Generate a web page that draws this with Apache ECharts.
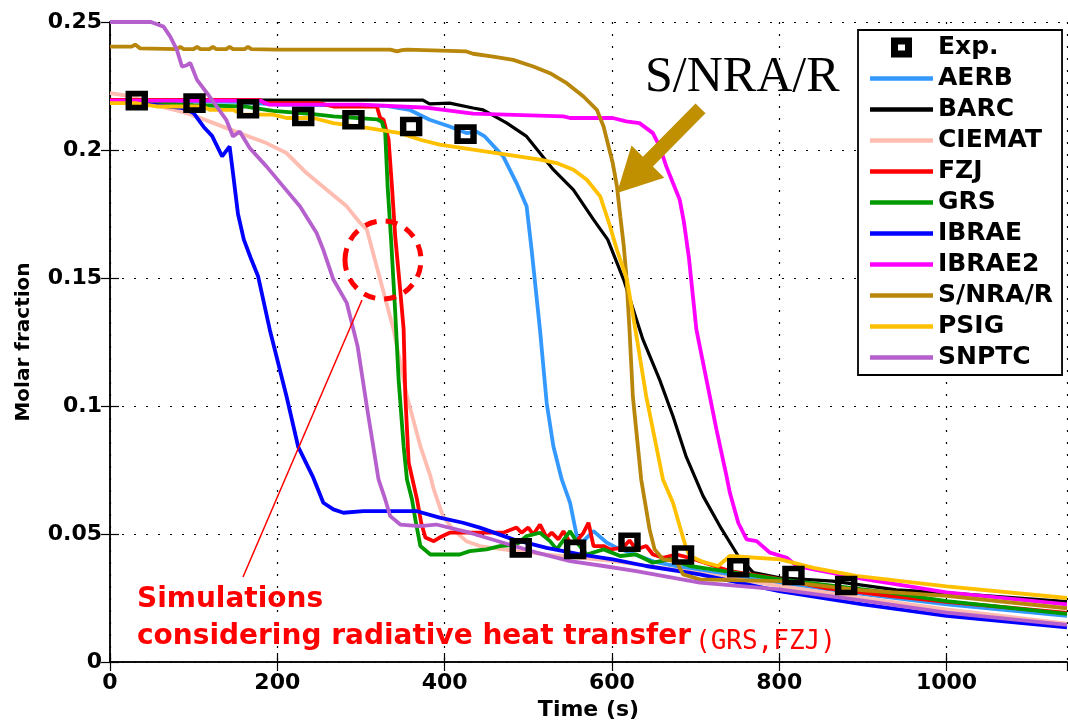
<!DOCTYPE html>
<html><head><meta charset="utf-8">
<script src="https://cdn.jsdelivr.net/npm/echarts@6/dist/echarts.min.js"></script>
<style>html,body{margin:0;padding:0;background:#fff}#c{width:1068px;height:726px}</style>
</head><body><div id="c"></div>
<script>
// ---------- DATA ----------
const expTime = [32, 101, 165, 231, 291, 360, 425, 491, 556, 621, 685, 751, 817, 880];
const expVal  = [0.2193, 0.2183, 0.2161, 0.2131, 0.2118, 0.2092, 0.2062, 0.0446, 0.0440, 0.0468, 0.0418, 0.0368, 0.0338, 0.0299];

const AERB = [[0,0.2193],[150,0.2188],[200,0.2177],[330,0.2172],[358,0.2157],[382,0.2118],[406,0.2092],[426,0.2066],[438,0.2072],[448,0.2053],[470,0.1975],[486,0.1871],[498,0.178],[504,0.161],[514,0.1298],[522,0.1012],[530,0.0843],[540,0.0713],[550,0.0622],[558,0.0492],[564,0.0466],[578,0.0511],[594,0.0466],[606,0.0446],[650,0.0392],[705,0.0355],[800,0.031],[900,0.0265],[1000,0.0225],[1144,0.018]];
const BARC = [[0,0.2195],[374,0.2195],[382,0.218],[406,0.2183],[434,0.2164],[446,0.2157],[474,0.2106],[498,0.2053],[530,0.1923],[554,0.1844],[578,0.1728],[595,0.165],[614,0.1494],[637,0.126],[657,0.1103],[673,0.096],[689,0.08],[709,0.0648],[729,0.0531],[751,0.0414],[769,0.0349],[801,0.0329],[864,0.0316],[940,0.0282],[1000,0.027],[1144,0.0236]];
const CIEMAT = [[0,0.2222],[27,0.2209],[60,0.217],[92,0.2144],[124,0.2105],[155,0.2066],[187,0.2027],[211,0.1988],[235,0.191],[259,0.1845],[283,0.178],[299,0.1715],[307,0.1689],[323,0.1494],[339,0.1298],[355,0.1038],[371,0.0843],[383,0.0726],[387,0.0674],[398,0.057],[410,0.0518],[426,0.0472],[442,0.0453],[470,0.044],[520,0.042],[600,0.0395],[700,0.0349],[800,0.0297],[900,0.025],[1000,0.0206],[1144,0.015]];
const FZJ = [[0,0.2196],[179,0.2196],[185,0.2183],[250,0.2183],[267,0.217],[319,0.217],[323,0.2125],[327,0.2118],[333,0.204],[337,0.186],[341,0.166],[347,0.145],[351,0.13],[353,0.104],[357,0.078],[367,0.0635],[372,0.0544],[377,0.0486],[387,0.0472],[394,0.0486],[406,0.0505],[470,0.0505],[486,0.0525],[492,0.0505],[500,0.0525],[506,0.0498],[514,0.0537],[522,0.0486],[528,0.0505],[536,0.0479],[542,0.0511],[550,0.0466],[558,0.0472],[566,0.0505],[572,0.0544],[578,0.0453],[590,0.0453],[598,0.044],[613,0.0446],[621,0.0475],[629,0.044],[641,0.0453],[649,0.042],[661,0.0407],[677,0.042],[693,0.0407],[717,0.0381],[741,0.0355],[793,0.0329],[853,0.029],[932,0.0258],[1000,0.0235],[1144,0.0192]];
const GRS = [[0,0.219],[100,0.2175],[160,0.217],[195,0.2153],[243,0.214],[267,0.2131],[319,0.212],[325,0.211],[329,0.2066],[332,0.185],[336,0.165],[341,0.1364],[345,0.1103],[351,0.0843],[355,0.0713],[361,0.0635],[365,0.0557],[371,0.0453],[383,0.042],[418,0.042],[430,0.0433],[450,0.044],[466,0.0453],[486,0.0459],[498,0.0492],[514,0.0505],[526,0.0472],[534,0.044],[550,0.0511],[560,0.0459],[570,0.042],[590,0.044],[610,0.0414],[629,0.042],[649,0.0388],[669,0.0401],[693,0.0375],[720,0.0362],[801,0.0323],[932,0.0271],[1000,0.0238],[1144,0.0188]];
const IBRAE = [[0,0.2192],[56,0.2175],[87,0.2164],[100,0.2144],[112,0.209],[122,0.2055],[134,0.1975],[143,0.2014],[147,0.191],[153,0.175],[160,0.165],[168,0.158],[177,0.1507],[191,0.1298],[211,0.1038],[225,0.084],[243,0.072],[255,0.0622],[267,0.0596],[279,0.0583],[303,0.0589],[367,0.0589],[394,0.0564],[422,0.0544],[442,0.0525],[482,0.0479],[522,0.0446],[562,0.042],[601,0.0401],[641,0.0375],[705,0.0342],[800,0.0277],[900,0.0225],[1000,0.018],[1144,0.0135]];
const IBRAE2 = [[0,0.2193],[180,0.2193],[190,0.2177],[300,0.2177],[380,0.2165],[434,0.2142],[542,0.2131],[550,0.2125],[601,0.2125],[617,0.2112],[633,0.2105],[649,0.2066],[657,0.2014],[665,0.1936],[673,0.1871],[681,0.1806],[686,0.172],[692,0.158],[701,0.1298],[713,0.1103],[725,0.0908],[737,0.0726],[741,0.0661],[751,0.0544],[761,0.0479],[773,0.0472],[789,0.0427],[809,0.0407],[821,0.0375],[841,0.0362],[900,0.0325],[1000,0.0272],[1144,0.0225]];
const SNRAR = [[0,0.2404],[26,0.2404],[30,0.2412],[36,0.2397],[80,0.2394],[84,0.2403],[88,0.2394],[100,0.2394],[104,0.2403],[108,0.2394],[119,0.2394],[123,0.2403],[127,0.2394],[139,0.2394],[143,0.2403],[147,0.2394],[161,0.2394],[165,0.2403],[169,0.2394],[200,0.2392],[335,0.2392],[343,0.2385],[349,0.239],[355,0.2392],[426,0.2385],[434,0.2376],[458,0.2365],[482,0.2352],[506,0.2326],[526,0.23],[546,0.2261],[566,0.2209],[582,0.2157],[590,0.2092],[596,0.2014],[601,0.1949],[606,0.1858],[610,0.1741],[614,0.163],[617,0.152],[621,0.1298],[625,0.1038],[631,0.0843],[635,0.0713],[639,0.0635],[645,0.0518],[651,0.044],[661,0.0401],[677,0.0394],[685,0.0342],[705,0.0323],[801,0.0316],[900,0.028],[1000,0.0258],[1144,0.021]];
const PSIG = [[0,0.2183],[30,0.2183],[56,0.217],[111,0.217],[119,0.2157],[147,0.2157],[159,0.2138],[195,0.2138],[211,0.2125],[243,0.2125],[267,0.2105],[307,0.2086],[347,0.2066],[371,0.204],[394,0.2021],[434,0.2001],[474,0.1982],[514,0.1962],[534,0.1949],[554,0.1923],[570,0.1884],[586,0.1819],[597,0.171],[606,0.161],[618,0.1494],[630,0.126],[641,0.1038],[653,0.0843],[661,0.0713],[673,0.0622],[681,0.0531],[688,0.0453],[693,0.0414],[710,0.039],[727,0.0375],[741,0.0414],[801,0.0401],[841,0.0368],[892,0.0336],[1000,0.0295],[1144,0.025]];
const SNPTC = [[0,0.25],[49,0.25],[64,0.2482],[72,0.2443],[80,0.2391],[86,0.2326],[91,0.233],[96,0.234],[104,0.2274],[119,0.2209],[139,0.2118],[147,0.2053],[155,0.2072],[167,0.2008],[187,0.1936],[207,0.1858],[227,0.178],[247,0.1676],[255,0.161],[267,0.1494],[283,0.1403],[296,0.1233],[307,0.0999],[321,0.0713],[329,0.0635],[335,0.057],[347,0.0537],[370,0.0531],[390,0.0537],[430,0.0505],[470,0.0466],[510,0.0427],[550,0.0394],[590,0.0375],[629,0.0355],[705,0.031],[800,0.0284],[900,0.024],[1000,0.0193],[1144,0.0145]];

const seriesNames = ['AERB','BARC','CIEMAT','FZJ','GRS','IBRAE','IBRAE2','S/NRA/R','PSIG','SNPTC'];
const seriesData = [AERB, BARC, CIEMAT, FZJ, GRS, IBRAE, IBRAE2, SNRAR, PSIG, SNPTC];
const seriesColors = ['#3399FF','#000000','#FFBCB0','#FF0000','#009A00','#0000FF','#FF00FF','#B8860B','#FFC000','#B660CD'];

// ---------- CHART ----------
const FONT = 'DejaVu Sans';
const chart = echarts.init(document.getElementById('c'), null, {renderer: 'canvas'});
const axisCommon = {
  type: 'value',
  axisLine: {show: true, lineStyle: {color: '#000', width: 1.5}},
  axisTick: {show: true, inside: true, length: 9, lineStyle: {color: '#000', width: 1.2}}
};
const lineSeries = seriesNames.map((n, i) => ({
  name: n, type: 'line', data: seriesData[i], symbol: 'none', showSymbol: false,
  lineStyle: {color: seriesColors[i], width: n === 'BARC' ? 3.2 : 3.8},
  itemStyle: {color: seriesColors[i]}, z: 2, animation: false
}));
const expSeries = {
  name: 'Exp.', type: 'scatter', data: expTime.map((t, i) => [t, expVal[i]]),
  symbol: 'rect', symbolSize: [16, 14],
  itemStyle: {color: 'rgba(0,0,0,0)', borderColor: '#000', borderWidth: 6, opacity: 1},
  z: 5, animation: false
};
const LINE_ICON = 'path://M0,0H63V4.5H0Z';
const legendData = [{name: 'Exp.', icon: 'path://M0,0H21V20H0Z M7,7V13H14V7Z', itemStyle: {color: '#000', borderWidth: 0, borderColor: 'rgba(0,0,0,0)', opacity: 1}}]
  .concat(seriesNames.map((n, i) => ({name: n, icon: LINE_ICON, itemStyle: {color: seriesColors[i]}})));

chart.setOption({
  animation: false,
  backgroundColor: '#fff',
  grid: {left: 110, right: 1, top: 22, bottom: 63, containLabel: false},
  xAxis: [
    Object.assign({}, axisCommon, {
      min: 0, max: 1144, interval: 200, position: 'bottom',
      axisLabel: {color: '#000', fontFamily: FONT, fontWeight: 'bold', fontSize: 22, margin: 10, showMaxLabel: false, formatter: v => String(v)},
      splitLine: {show: true, lineStyle: {color: '#000', width: 1.2, type: [2, 10]}},
      name: 'Time (s)', nameLocation: 'middle', nameGap: 37,
      nameTextStyle: {color: '#000', fontFamily: FONT, fontWeight: 'bold', fontSize: 22}
    }),
    Object.assign({}, axisCommon, {
      min: 0, max: 1144, interval: 200, position: 'top',
      axisLabel: {show: false}, splitLine: {show: false}
    })
  ],
  yAxis: [
    Object.assign({}, axisCommon, {
      min: 0, max: 0.25, interval: 0.05, position: 'left',
      axisLabel: {color: '#000', fontFamily: FONT, fontWeight: 'bold', fontSize: 22, margin: 8},
      splitLine: {show: true, lineStyle: {color: '#000', width: 1.2, type: [2, 10]}},
      name: 'Molar fraction', nameLocation: 'middle', nameGap: 76,
      nameTextStyle: {color: '#000', fontFamily: FONT, fontWeight: 'bold', fontSize: 20}
    }),
    Object.assign({}, axisCommon, {
      min: 0, max: 0.25, interval: 0.05, position: 'right',
      axisLabel: {show: false}, splitLine: {show: false}
    })
  ],
  legend: {
    orient: 'vertical', left: 858, top: 30,
    padding: [5, 9, 5, 12], itemGap: 6, itemWidth: 63, itemHeight: 20,
    backgroundColor: '#fff', borderColor: '#000', borderWidth: 1.8, borderRadius: 0,
    textStyle: {color: '#000', fontFamily: FONT, fontWeight: 'bold', fontSize: 25},
    selectedMode: false,
    data: legendData
  },
  series: lineSeries.concat([expSeries]),
  graphic: [
    {type: 'text', z: 100, style: {text: 'S/NRA/R', x: 645, y: 78, textVerticalAlign: 'middle', font: '50px "Liberation Serif", "Times New Roman", serif', fill: '#000'}},
    {type: 'polygon', z: 100, shape: {points: [[695.5,103.4],[705.5,113.2],[652.9,166.6],[664.3,177.8],[617,193],[631.5,145.6],[642.9,156.8]]}, style: {fill: '#C09000'}},
    {type: 'ellipse', z: 100, shape: {cx: 383, cy: 260, rx: 38, ry: 39}, style: {fill: 'none', stroke: '#FF0000', lineWidth: 5, lineDash: [12, 9]}},
    {type: 'line', z: 100, shape: {x1: 362, y1: 300, x2: 243, y2: 577}, style: {stroke: '#FF0000', lineWidth: 1.5}},
    {type: 'text', z: 100, style: {text: 'Simulations', x: 137, y: 600, textVerticalAlign: 'middle', font: 'bold 28px "DejaVu Sans"', fill: '#FF0000'}},
    {type: 'text', z: 100, style: {text: 'considering radiative heat transfer', x: 137, y: 637, textVerticalAlign: 'middle', font: 'bold 28px "DejaVu Sans"', fill: '#FF0000'}},
    {type: 'text', z: 100, style: {text: '(GRS,FZJ)', x: 695, y: 642, textVerticalAlign: 'middle', font: '26px "DejaVu Sans Mono", "Liberation Mono", monospace', fill: '#FF0000'}}
  ]
});
</script>
</body></html>
